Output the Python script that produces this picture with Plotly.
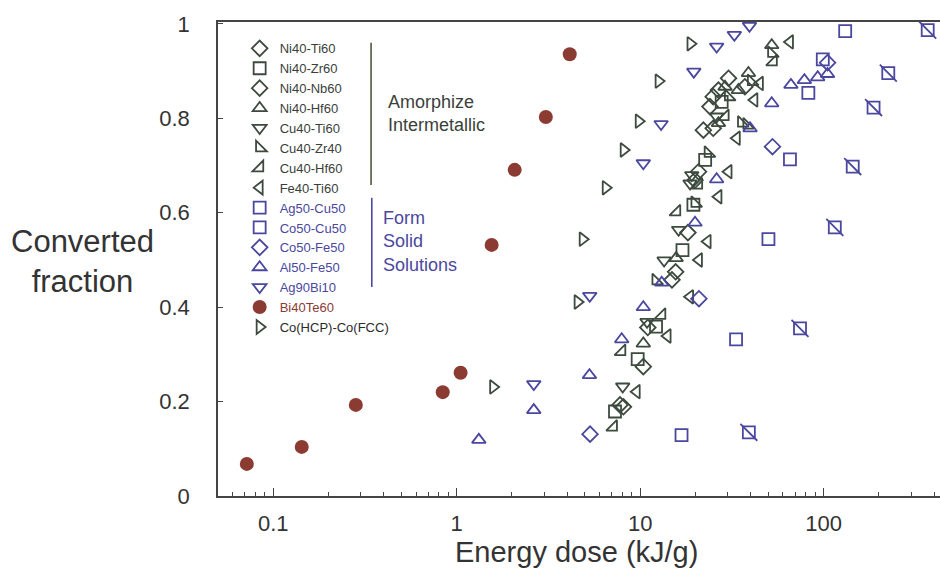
import plotly.graph_objects as go
import math

# ---------------- data (energy dose kJ/g, converted fraction) ----------------
ni_ti_x = [8.1, 11.0, 15.6, 19.9, 22.1, 25.0, 30.3]
ni_ti_y = [0.189, 0.357, 0.475, 0.669, 0.775, 0.846, 0.885]

ni_zr_x = [7.29, 9.69, 12.2, 17.0, 19.5, 22.6, 27.8]
ni_zr_y = [0.179, 0.290, 0.359, 0.521, 0.617, 0.712, 0.835]

ni_nb_x = [7.76, 10.4, 14.9, 18.2, 20.8, 24.0, 25.0, 26.7, 37.2]
ni_nb_y = [0.193, 0.274, 0.458, 0.558, 0.687, 0.825, 0.779, 0.860, 0.867]

ni_hf_x = [10.4, 15.7, 26.7, 29.0, 34.3, 38.9, 52.1]
ni_hf_y = [0.323, 0.504, 0.790, 0.867, 0.860, 0.896, 0.955]

cu_ti_x = [8.03, 10.9, 13.5, 16.2, 18.7, 19.1, 26.1]
cu_ti_y = [0.232, 0.369, 0.499, 0.564, 0.662, 0.680, 0.804]

cu_zr_x = [12.2, 19.9, 23.5, 30.3, 35.7, 38.2, 40.4, 52.1]
cu_zr_y = [0.456, 0.620, 0.726, 0.846, 0.790, 0.786, 0.878, 0.938]

cu_hf_x = [7.14, 7.93, 13.1, 15.8, 20.8, 29.0, 53.1]
cu_hf_y = [0.146, 0.306, 0.383, 0.602, 0.659, 0.804, 0.920]

fe_ti_x = [9.57, 14.1, 18.7, 20.9, 23.3, 26.7, 30.3, 33.6, 41.9, 44.9, 65.5]
fe_ti_y = [0.221, 0.339, 0.422, 0.500, 0.539, 0.634, 0.687, 0.758, 0.839, 0.874, 0.962]

ag_cu_x = [39.1, 74.3, 115, 144, 187, 225, 369]
ag_cu_y = [0.135, 0.355, 0.569, 0.698, 0.823, 0.896, 0.987]

co_cu_x = [16.8, 33.3, 50.0, 65.5, 82.5, 98.9, 131]
co_cu_y = [0.129, 0.332, 0.544, 0.713, 0.854, 0.925, 0.985]

co_fe_x = [5.33, 20.9, 52.6, 105]
co_fe_y = [0.131, 0.418, 0.740, 0.918]

al_fe_x = [1.32, 2.63, 5.29, 7.93, 10.4, 13.1, 19.9, 26.1, 39.7, 52.1, 66.3, 78.5, 92.8, 105]
al_fe_y = [0.119, 0.182, 0.256, 0.332, 0.400, 0.452, 0.579, 0.671, 0.779, 0.832, 0.871, 0.881, 0.887, 0.894]

ag_bi_x = [2.63, 5.31, 10.4, 13.0, 19.6, 26.1, 32.6, 39.4]
ag_bi_y = [0.237, 0.424, 0.705, 0.788, 0.899, 0.952, 0.977, 0.996]

bi_te_x = [0.0718, 0.143, 0.282, 0.839, 1.05, 1.55, 2.07, 3.06, 4.13]
bi_te_y = [0.068, 0.104, 0.193, 0.220, 0.261, 0.532, 0.691, 0.803, 0.936]

co_hcp_x = [1.58, 4.56, 4.86, 6.49, 8.13, 9.82, 12.6, 18.8]
co_hcp_y = [0.231, 0.411, 0.544, 0.653, 0.733, 0.794, 0.879, 0.958]

x_tick_vals = [0.1, 1, 10, 100]
x_tick_text = ["0.1", "1", "10", "100"]
y_tick_vals = [0, 0.2, 0.4, 0.6, 0.8, 1]
y_tick_text = ["0", "0.2", "0.4", "0.6", "0.8", "1"]

# ---------------- styles ----------------
GRAY = "#3d4a3e"
BLUE = "#4a479e"
BROWN = "#8c3b33"
GTXT = "#3a3f3a"
FONT = "Liberation Sans, Arial, sans-serif"
MS = 12
LW = 1.8

series = [
    ("Ni40-Ti60", ni_ti_x, ni_ti_y, "diamond-open", GRAY, GTXT),
    ("Ni40-Zr60", ni_zr_x, ni_zr_y, "square-open", GRAY, GTXT),
    ("Ni40-Nb60", ni_nb_x, ni_nb_y, "diamond-open", GRAY, GTXT),
    ("Ni40-Hf60", ni_hf_x, ni_hf_y, "triangle-up-open", GRAY, GTXT),
    ("Cu40-Ti60", cu_ti_x, cu_ti_y, "triangle-down-open", GRAY, GTXT),
    ("Cu40-Zr40", cu_zr_x, cu_zr_y, "triangle-sw-open", GRAY, GTXT),
    ("Cu40-Hf60", cu_hf_x, cu_hf_y, "triangle-se-open", GRAY, GTXT),
    ("Fe40-Ti60", fe_ti_x, fe_ti_y, "triangle-left-open", GRAY, GTXT),
    ("Ag50-Cu50", ag_cu_x, ag_cu_y, "square-open", BLUE, BLUE),
    ("Co50-Cu50", co_cu_x, co_cu_y, "square-open", BLUE, BLUE),
    ("Co50-Fe50", co_fe_x, co_fe_y, "diamond-open", BLUE, BLUE),
    ("Al50-Fe50", al_fe_x, al_fe_y, "triangle-up-open", BLUE, BLUE),
    ("Ag90Bi10", ag_bi_x, ag_bi_y, "triangle-down-open", BLUE, BLUE),
    ("Bi40Te60", bi_te_x, bi_te_y, "circle", BROWN, BROWN),
    ("Co(HCP)-Co(FCC)", co_hcp_x, co_hcp_y, "triangle-right-open", GRAY, "#2a2a2a"),
]

fig = go.Figure()
for name, xs, ys, sym, col, tcol in series:
    if sym == "circle":
        marker = dict(symbol=sym, size=MS + 2, color=col, line=dict(width=0))
    else:
        marker = dict(symbol=sym, size=MS, color=col, line=dict(width=LW, color=col))
    fig.add_trace(go.Scatter(
        x=xs, y=ys, mode="markers", marker=marker, cliponaxis=False,
        name=f"<span style='color:{tcol}'>{name}</span>", legendgroup=name,
    ))
    if name == "Ag50-Cu50":
        fig.add_trace(go.Scatter(
            x=xs, y=ys, mode="markers", cliponaxis=False, showlegend=False,
            legendgroup=name,
            marker=dict(symbol="line-nw-open", size=MS * 1.414, color=col,
                        line=dict(width=LW, color=col)),
        ))

# group brackets and labels
fig.add_shape(type="line", xref="paper", yref="paper", x0=0.212, x1=0.212,
              y0=0.956, y1=0.656, line=dict(color="#4d5a3a", width=1.6))
fig.add_shape(type="line", xref="paper", yref="paper", x0=0.213, x1=0.213,
              y0=0.629, y1=0.441, line=dict(color=BLUE, width=1.6))
fig.add_annotation(xref="paper", yref="paper", x=0.232, y=0.806, xanchor="left",
                   yanchor="middle", align="left", showarrow=False,
                   text="Amorphize<br>Intermetallic",
                   font=dict(family=FONT, size=18, color=GTXT))
fig.add_annotation(xref="paper", yref="paper", x=0.226, y=0.536, xanchor="left",
                   yanchor="middle", align="left", showarrow=False,
                   text="Form<br>Solid<br>Solutions",
                   font=dict(family=FONT, size=18, color=BLUE))

# axis titles
fig.add_annotation(xref="paper", yref="paper", x=-0.188, y=0.494, xanchor="center",
                   yanchor="middle", showarrow=False, text="Converted<br>fraction",
                   font=dict(family=FONT, size=31, color="#333333"))
fig.add_annotation(xref="paper", yref="paper", x=0.497, y=-0.119, xanchor="center",
                   yanchor="middle", showarrow=False, text="Energy dose (kJ/g)",
                   font=dict(family=FONT, size=29, color="#333333"))

fig.update_layout(
    width=940, height=572,
    margin=dict(l=218, r=0, t=22, b=76),
    paper_bgcolor="white", plot_bgcolor="white",
    font=dict(family=FONT, color="#333333"),
    showlegend=True,
    legend=dict(x=0.030, y=0.976, xanchor="left", yanchor="top",
                bgcolor="rgba(0,0,0,0)", font=dict(family=FONT, size=13, color=GTXT),
                tracegroupgap=0, itemclick=False),
    xaxis=dict(type="log", range=[math.log10(0.05), 2.634],
               tickvals=x_tick_vals, ticktext=x_tick_text,
               ticks="inside", ticklen=8, tickwidth=1.2, tickcolor="#444",
               minor=dict(ticks="inside", ticklen=4, tickwidth=1, tickcolor="#444", dtick="D1", showgrid=False),
               showline=True, linecolor="#444", linewidth=1.5, mirror=True,
               showgrid=False, zeroline=False,
               tickfont=dict(family=FONT, size=22, color="#333333"), ticklabelstandoff=7),
    yaxis=dict(range=[0, 1.0042], tickvals=y_tick_vals, ticktext=y_tick_text,
               ticks="inside", ticklen=5, tickwidth=1.2, tickcolor="#444",
               showline=True, linecolor="#444", linewidth=1.5,
               showgrid=False, zeroline=False,
               tickfont=dict(family=FONT, size=22, color="#333333"), ticklabelstandoff=22),
)

fig.write_html("out.html")
